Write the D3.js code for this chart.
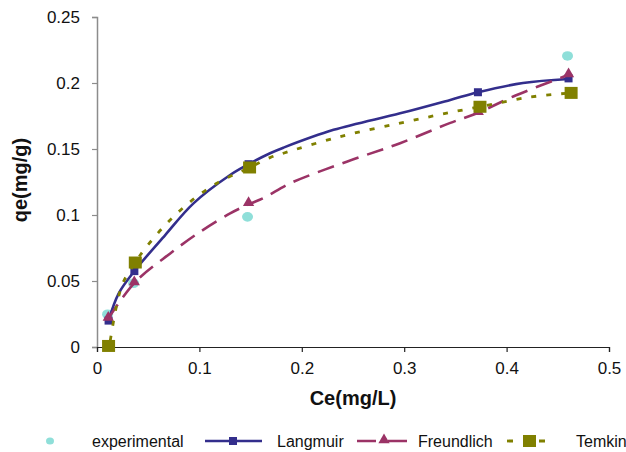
<!DOCTYPE html>
<html>
<head>
<meta charset="utf-8">
<script src="https://cdn.jsdelivr.net/npm/d3@7"></script>
<style>
  body { margin: 0; background: #fff; }
  svg { font-family: "Liberation Sans", Arial, sans-serif; }
</style>
</head>
<body>
<svg id="chart" width="626" height="452"></svg>
<script>
// measured points (markers)
const experimental = [[0.0103, 0.0248], [0.0357, 0.0483], [0.147, 0.0986], [0.4595, 0.2205]];
const langmuirPts = [[0.0113, 0.0200], [0.0365, 0.0575], [0.148, 0.1385], [0.372, 0.1930], [0.4605, 0.2035]];
const freundlichPts = [[0.0110, 0.0215], [0.0364, 0.0485], [0.148, 0.1085], [0.3723, 0.1775], [0.4605, 0.2060]];
const temkinPts = [[0.0113, 0.0008], [0.0374, 0.0640], [0.1490, 0.1360], [0.3740, 0.1820], [0.4630, 0.1925]];

// model curves
const langmuirCurve = [[0.0113, 0.0200], [0.0211, 0.0405], [0.0365, 0.0575], [0.0666, 0.0848], [0.0942, 0.1088],
  [0.130, 0.1303], [0.148, 0.1385], [0.169, 0.1468], [0.182, 0.1510], [0.231, 0.1645], [0.296, 0.1770],
  [0.345, 0.1872], [0.372, 0.1930], [0.416, 0.2000], [0.4605, 0.2030]];
const freundlichCurve = [[0.0110, 0.0215], [0.0364, 0.0485], [0.0715, 0.0709], [0.1008, 0.0873], [0.130, 0.1012],
  [0.148, 0.1080], [0.164, 0.1134], [0.1886, 0.1240], [0.2439, 0.1404], [0.296, 0.1544], [0.3444, 0.1696],
  [0.3723, 0.1775], [0.4065, 0.1898], [0.4605, 0.2062]];
const temkinCurve = [[0.0130, 0.0050], [0.0244, 0.0468], [0.0374, 0.0640], [0.0471, 0.0747], [0.0683, 0.0937],
  [0.091, 0.1100], [0.117, 0.1240], [0.149, 0.1360], [0.169, 0.1435], [0.182, 0.1468], [0.2374, 0.1594],
  [0.296, 0.1696], [0.3444, 0.1776], [0.374, 0.1820], [0.4226, 0.1893], [0.4630, 0.1925]];

const xTicks = [0, 0.1, 0.2, 0.3, 0.4, 0.5];
const yTicks = [0, 0.05, 0.1, 0.15, 0.2, 0.25];

const C_EXP = '#8fdfd9', C_LAN = '#332e8c', C_FRE = '#9b3366', C_TEM = '#808000';

const svg = d3.select('#chart');
const margin = { left: 97, top: 17, right: 17, bottom: 105 };

const x = d3.scaleLinear().domain([0, 0.5]).range([margin.left, 609]);
const y = d3.scaleLinear().domain([0, 0.25]).range([347, margin.top]);

// y axis (grey)
const yAxis = svg.append('g')
    .attr('transform', `translate(${margin.left},0)`)
    .call(d3.axisLeft(y).tickValues(yTicks).tickSize(5).tickPadding(12).tickFormat(d => d3.format('')(d)));
yAxis.select('.domain').attr('stroke', '#8c8c8c').attr('stroke-width', 1.5);
yAxis.selectAll('.tick line').attr('stroke', '#8c8c8c').attr('stroke-width', 1.2);
yAxis.selectAll('text').attr('font-size', 17).attr('fill', '#111');

// x axis
const xAxis = svg.append('g')
    .attr('transform', 'translate(0,347)')
    .call(d3.axisBottom(x).tickValues(xTicks).tickSize(5).tickPadding(10).tickFormat(d => d3.format('')(d)));
xAxis.select('.domain').attr('stroke', '#222').attr('stroke-width', 1.2);
xAxis.selectAll('.tick line').attr('stroke', '#222').attr('stroke-width', 1.2);
xAxis.selectAll('text').attr('font-size', 17).attr('fill', '#111');

// axis titles
svg.append('text')
    .attr('transform', `translate(27,180) rotate(-90)`)
    .attr('text-anchor', 'middle')
    .attr('font-size', 20).attr('font-weight', 'bold').attr('fill', '#111')
    .text('qe(mg/g)');
svg.append('text')
    .attr('x', 353).attr('y', 405)
    .attr('text-anchor', 'middle')
    .attr('font-size', 20).attr('font-weight', 'bold').attr('fill', '#111')
    .text('Ce(mg/L)');

const line = d3.line().x(d => x(d[0])).y(d => y(d[1])).curve(d3.curveCatmullRom.alpha(0.5));

// experimental points
svg.append('g').selectAll('ellipse').data(experimental).join('ellipse')
    .attr('cx', d => x(d[0])).attr('cy', d => y(d[1]))
    .attr('rx', 5.5).attr('ry', 4.8).attr('fill', C_EXP);

// Langmuir
svg.append('path').datum(langmuirCurve).attr('d', line)
    .attr('fill', 'none').attr('stroke', C_LAN).attr('stroke-width', 2.6);
svg.append('g').selectAll('rect').data(langmuirPts).join('rect')
    .attr('x', d => x(d[0]) - 4).attr('y', d => y(d[1]) - 4)
    .attr('width', 8).attr('height', 8).attr('fill', C_LAN);

// Freundlich
svg.append('path').datum(freundlichCurve).attr('d', line)
    .attr('fill', 'none').attr('stroke', C_FRE).attr('stroke-width', 2.6)
    .attr('stroke-dasharray', '17,9');
const tri = d3.symbol().type(d3.symbolTriangle).size(55);
svg.append('g').selectAll('path').data(freundlichPts).join('path')
    .attr('d', tri).attr('transform', d => `translate(${x(d[0])},${y(d[1]) - 1})`)
    .attr('fill', C_FRE);

// Temkin
svg.append('path').datum(temkinCurve).attr('d', line)
    .attr('fill', 'none').attr('stroke', C_TEM).attr('stroke-width', 2.8)
    .attr('stroke-dasharray', '5,10');
svg.append('g').selectAll('rect').data(temkinPts).join('rect')
    .attr('x', d => x(d[0]) - 6.5).attr('y', d => y(d[1]) - 6)
    .attr('width', 13).attr('height', 12).attr('fill', C_TEM);

// legend
const ly = 441;
const leg = svg.append('g').attr('font-size', 16).attr('fill', '#111');
leg.append('ellipse').attr('cx', 50).attr('cy', ly).attr('rx', 4).attr('ry', 3.6).attr('fill', C_EXP);
leg.append('text').attr('x', 92).attr('y', ly + 5.5).text('experimental');

leg.append('line').attr('x1', 205).attr('x2', 262).attr('y1', ly).attr('y2', ly)
    .attr('stroke', C_LAN).attr('stroke-width', 2.6);
leg.append('rect').attr('x', 229).attr('y', ly - 4).attr('width', 8).attr('height', 8).attr('fill', C_LAN);
leg.append('text').attr('x', 277).attr('y', ly + 5.5).text('Langmuir');

leg.append('line').attr('x1', 357).attr('x2', 407).attr('y1', ly).attr('y2', ly)
    .attr('stroke', C_FRE).attr('stroke-width', 2.6).attr('stroke-dasharray', '19,12');
leg.append('path').attr('d', tri).attr('transform', `translate(384,${ly - 1})`).attr('fill', C_FRE);
leg.append('text').attr('x', 418).attr('y', ly + 5.5).text('Freundlich');

leg.append('line').attr('x1', 507).attr('x2', 552).attr('y1', ly).attr('y2', ly)
    .attr('stroke', C_TEM).attr('stroke-width', 2.8).attr('stroke-dasharray', '6,10');
leg.append('rect').attr('x', 523).attr('y', ly - 6).attr('width', 13).attr('height', 12).attr('fill', C_TEM);
leg.append('text').attr('x', 576).attr('y', ly + 5.5).text('Temkin');
</script>
</body>
</html>
